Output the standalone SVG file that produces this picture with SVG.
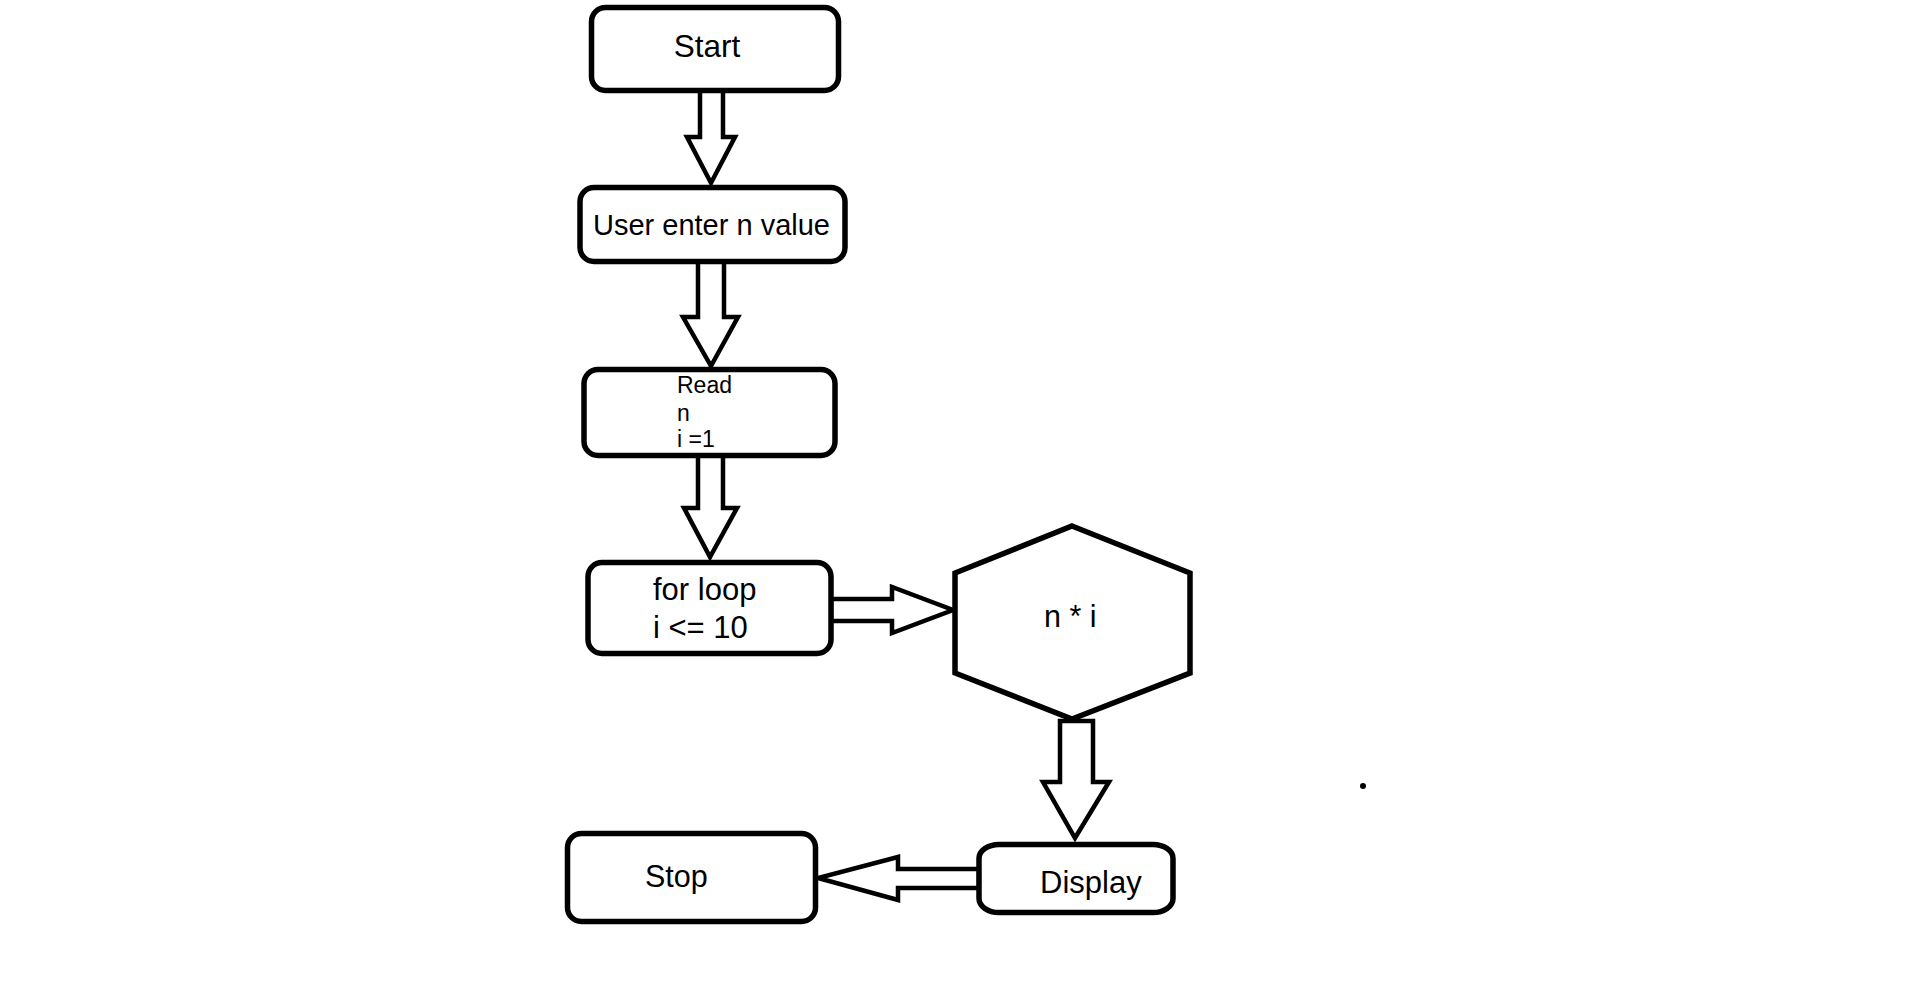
<svg xmlns="http://www.w3.org/2000/svg" width="1914" height="981" viewBox="0 0 1914 981">
<style>
.box{fill:#fff;stroke:#000;stroke-width:5.5}
.arr{fill:#fff;stroke:#000;stroke-width:4.5;stroke-linejoin:miter}
.t{font-family:"Liberation Sans",Arial,sans-serif;fill:#000}
</style>
<rect width="1914" height="981" fill="#fff"/>
<g id="connectors">
<polygon class="arr" points="700,90 723,90 723,137 735,137 711,183 687,137 700,137"/>
<polygon class="arr" points="698,261 724,261 724,317 738,317 711,366 683,317 698,317"/>
<polygon class="arr" points="698,455 723,455 723,508 737,508 710,557 684,508 698,508"/>
<polygon class="arr" points="831,599 892,599 892,587 953,610 892,633 892,621 831,621"/>
<polygon class="arr" points="1060,721 1093,721 1093,782 1109,782 1075,838 1043,782 1060,782"/>
<polygon class="arr" points="979,869 898,869 898,857 818,878 898,900 898,888 979,888"/>
</g>
<g id="start">
<rect class="box" x="591.5" y="7.5" width="247" height="83" rx="14"/>
<text class="t" x="707" y="57" font-size="31.5" text-anchor="middle">Start</text>
</g>
<g id="user-enter">
<rect class="box" x="580" y="187.5" width="265" height="74" rx="14"/>
<text class="t" x="711.5" y="235" font-size="29" text-anchor="middle">User enter n value</text>
</g>
<g id="read">
<rect class="box" x="584" y="369.5" width="251" height="86" rx="14"/>
<text class="t" font-size="23"><tspan x="677" y="393">Read</tspan><tspan x="677" y="421">n</tspan><tspan x="677" y="447">i =1</tspan></text>
</g>
<g id="for-loop">
<rect class="box" x="588" y="562.5" width="243" height="91" rx="14"/>
<text class="t" font-size="31"><tspan x="653" y="600">for loop</tspan><tspan x="653" y="638">i &lt;= 10</tspan></text>
</g>
<g id="multiply">
<polygon class="box" stroke-width="4.5" points="1072,526 1190,573 1190,673 1072,719 955,673 955,573"/>
<text class="t" x="1044" y="627" font-size="30.5">n * i</text>
</g>
<g id="display">
<rect class="box" x="979" y="844.5" width="194" height="68" rx="20" ry="14"/>
<text class="t" x="1040" y="893" font-size="31">Display</text>
</g>
<g id="stop">
<rect class="box" x="567.5" y="833.5" width="248" height="88" rx="14"/>
<text class="t" x="645" y="887" font-size="30.5">Stop</text>
</g>
<circle cx="1363" cy="786" r="3" fill="#000"/>
</svg>
